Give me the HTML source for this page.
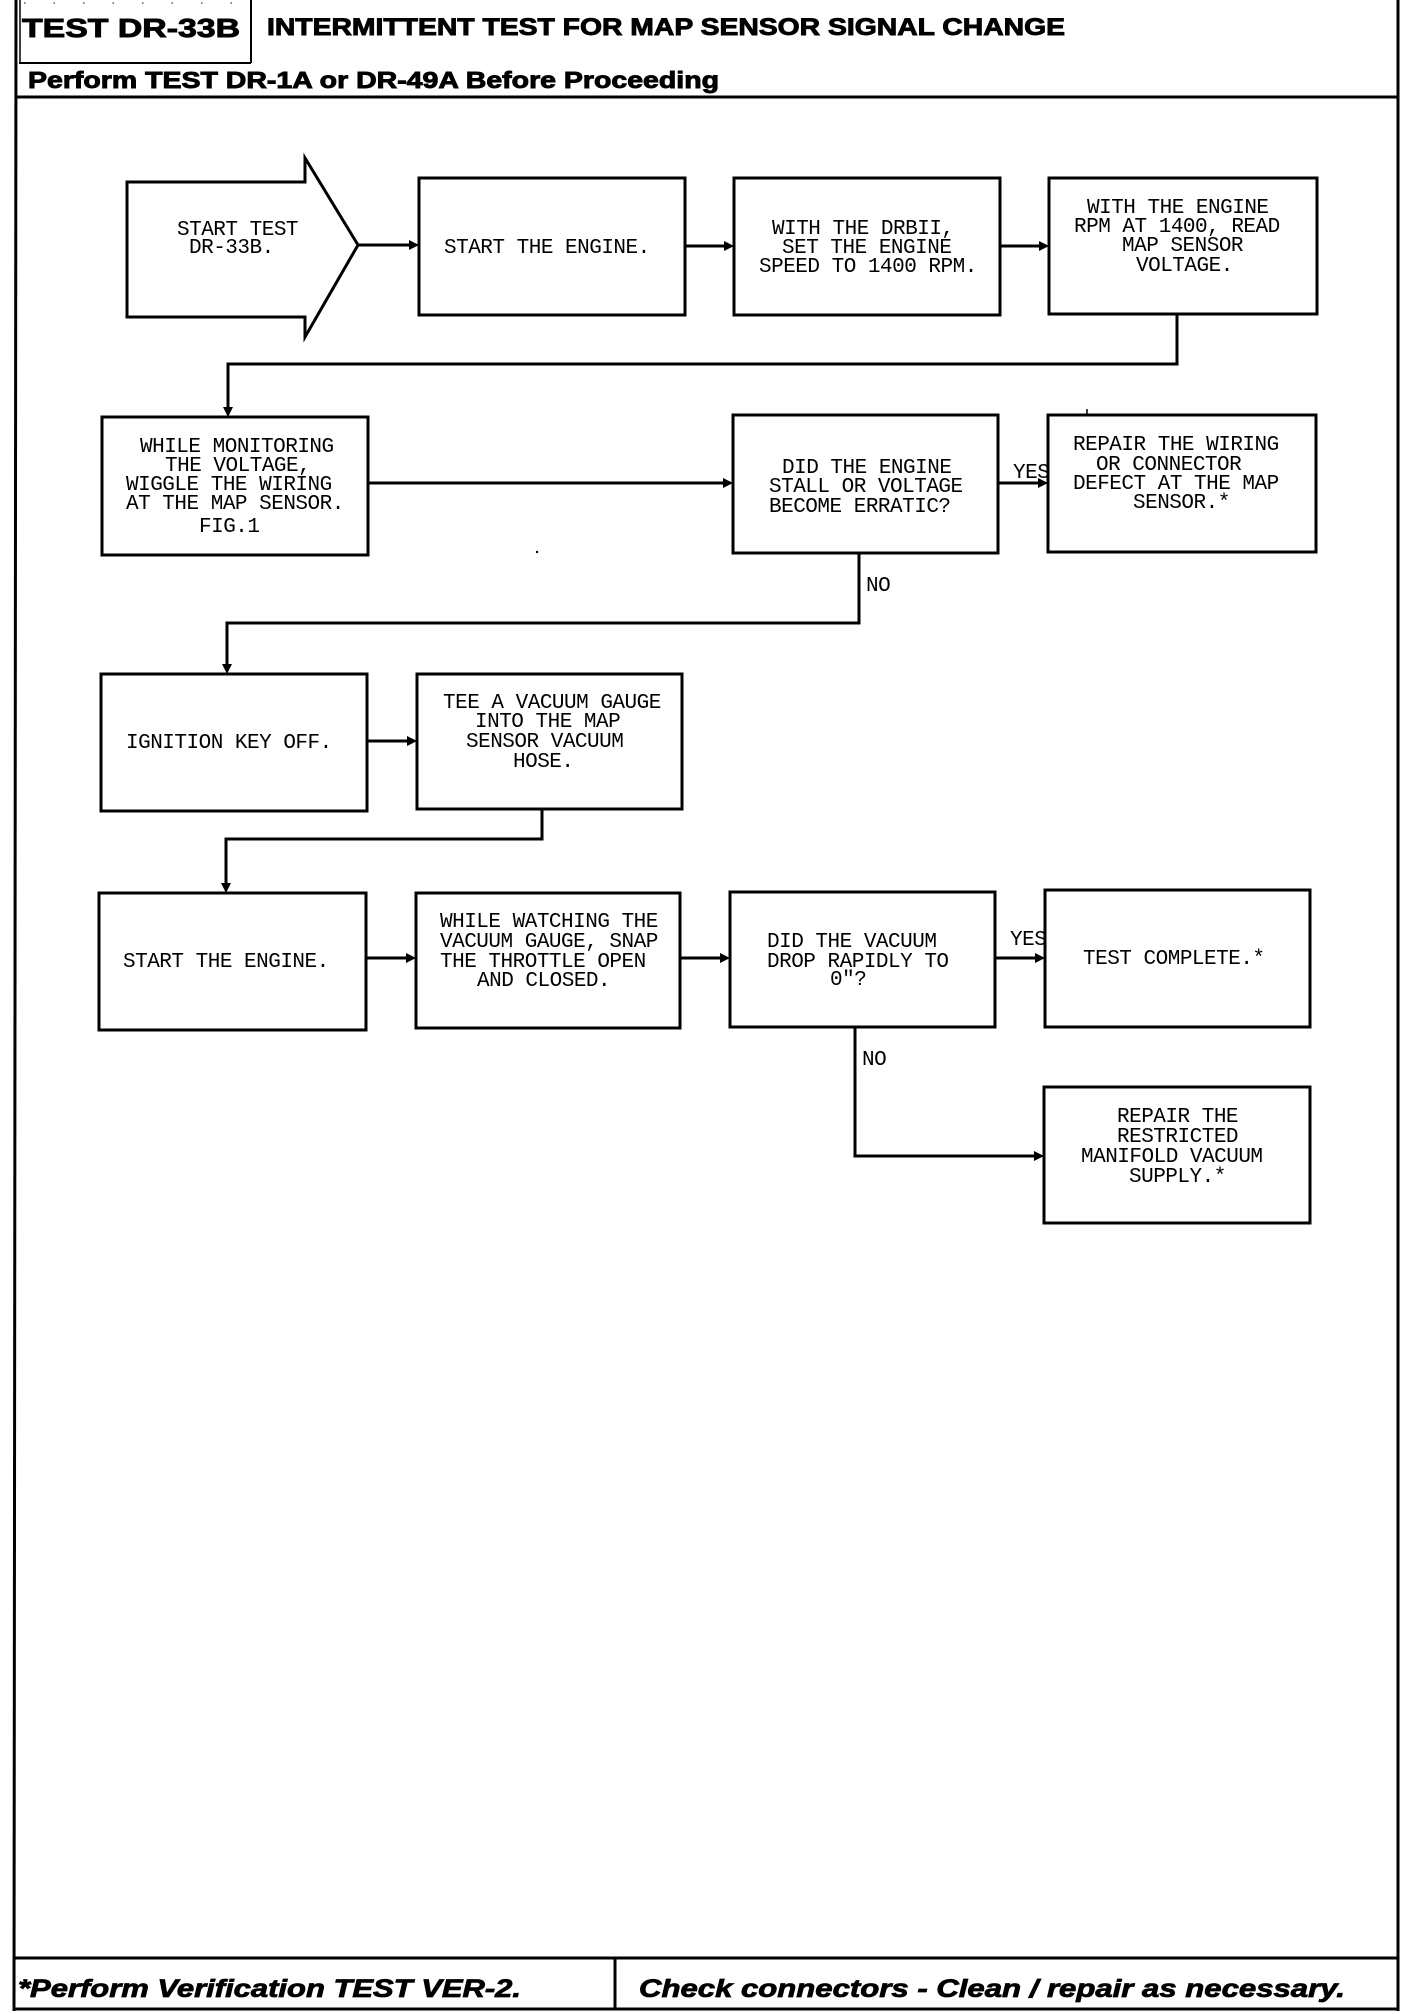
<!DOCTYPE html>
<html><head><meta charset="utf-8">
<style>
html,body{margin:0;padding:0;background:#fff;}
svg{display:block;}
.m{font-family:"Liberation Mono","DejaVu Sans Mono",monospace;font-size:21px;letter-spacing:-0.5px;fill:#000;}
.h{font-family:"Liberation Sans",Arial,sans-serif;font-weight:bold;fill:#000;stroke:#000;stroke-width:0.9px;}
.f{font-family:"Liberation Sans",Arial,sans-serif;font-weight:bold;font-style:italic;fill:#000;stroke:#000;stroke-width:0.8px;}
</style></head>
<body>
<svg width="1408" height="2014" viewBox="0 0 1408 2014" xmlns="http://www.w3.org/2000/svg">
<rect x="0" y="0" width="1408" height="2014" fill="#fff"/>
<g stroke="#000" fill="none">
  <!-- outer frame -->
  <line x1="16" y1="0" x2="14" y2="2011" stroke-width="3"/>
  <line x1="1398" y1="0" x2="1398" y2="2011" stroke-width="3"/>
  <line x1="24" y1="3" x2="251" y2="3" stroke-width="1" stroke-dasharray="1.5 28"/>
  <line x1="20" y1="0" x2="20" y2="63" stroke-width="1.5"/>
  <line x1="251" y1="0" x2="251" y2="63" stroke-width="2"/>
  <line x1="19" y1="63" x2="251" y2="63" stroke-width="2"/>
  <line x1="15" y1="97" x2="1399" y2="97" stroke-width="3"/>
  <!-- footer -->
  <line x1="13" y1="1958" x2="1399" y2="1958" stroke-width="3"/>
  <line x1="615" y1="1958" x2="615" y2="2009" stroke-width="3"/>
  <line x1="13" y1="2009" x2="1399" y2="2009" stroke-width="3"/>
</g>

<!-- header text -->
<text class="h" x="22" y="37" font-size="26" textLength="218" lengthAdjust="spacingAndGlyphs">TEST DR-33B</text>
<text class="h" x="267" y="35" font-size="24" textLength="798" lengthAdjust="spacingAndGlyphs">INTERMITTENT TEST FOR MAP SENSOR SIGNAL CHANGE</text>
<text class="h" x="28" y="88" font-size="23" textLength="691" lengthAdjust="spacingAndGlyphs">Perform TEST DR-1A or DR-49A Before Proceeding</text>

<!-- footer text -->
<text class="f" x="18" y="1997" font-size="25" textLength="503" lengthAdjust="spacingAndGlyphs">*Perform Verification TEST VER-2.</text>
<text class="f" x="639" y="1997" font-size="25" textLength="706" lengthAdjust="spacingAndGlyphs">Check connectors - Clean / repair as necessary.</text>

<!-- shapes -->
<g stroke="#000" stroke-width="3" fill="none" stroke-linejoin="miter">
  <polygon points="127,182 305,182 305,158 358,245 305,337 305,317 127,317"/>
  <rect x="419" y="178" width="266" height="137"/>
  <rect x="734" y="178" width="266" height="137"/>
  <rect x="1049" y="178" width="268" height="136"/>
  <rect x="102" y="417" width="266" height="138"/>
  <rect x="733" y="415" width="265" height="138"/>
  <rect x="1048" y="415" width="268" height="137"/>
  <rect x="101" y="674" width="266" height="137"/>
  <rect x="417" y="674" width="265" height="135"/>
  <rect x="99" y="893" width="267" height="137"/>
  <rect x="416" y="893" width="264" height="135"/>
  <rect x="730" y="892" width="265" height="135"/>
  <rect x="1045" y="890" width="265" height="137"/>
  <rect x="1044" y="1087" width="266" height="136"/>

  <!-- connectors -->
  <line x1="358" y1="245" x2="412" y2="245"/>
  <line x1="685" y1="246" x2="727" y2="246"/>
  <line x1="1000" y1="246" x2="1042" y2="246"/>
  <polyline points="1177,314 1177,364 228,364 228,410"/>
  <line x1="368" y1="483" x2="726" y2="483"/>
  <line x1="998" y1="483" x2="1041" y2="483"/>
  <polyline points="859,553 859,623 227,623 227,667"/>
  <line x1="367" y1="741" x2="410" y2="741"/>
  <polyline points="542,809 542,839 226,839 226,886"/>
  <line x1="366" y1="958" x2="409" y2="958"/>
  <line x1="680" y1="958" x2="723" y2="958"/>
  <line x1="995" y1="958" x2="1038" y2="958"/>
  <polyline points="855,1027 855,1156 1037,1156"/>
  <line x1="1087" y1="409" x2="1087" y2="415" stroke-width="1.5"/>
</g>

<!-- arrowheads -->
<g fill="#000" stroke="none">
  <polygon points="419,245 409,240 409,250"/>
  <polygon points="734,246 724,241 724,251"/>
  <polygon points="1049,246 1039,241 1039,251"/>
  <polygon points="228,417 223,407 233,407"/>
  <polygon points="733,483 723,478 723,488"/>
  <polygon points="1048,483 1038,478 1038,488"/>
  <polygon points="227,674 222,664 232,664"/>
  <polygon points="417,741 407,736 407,746"/>
  <polygon points="226,893 221,883 231,883"/>
  <polygon points="416,958 406,953 406,963"/>
  <polygon points="730,958 720,953 720,963"/>
  <polygon points="1045,958 1035,953 1035,963"/>
  <polygon points="1044,1156 1034,1151 1034,1161"/>
  <circle cx="537" cy="552" r="1.2"/>
</g>

<!-- box text -->
<g class="m">
  <text x="177" y="235">START TEST</text>
  <text x="189" y="253">DR-33B.</text>

  <text x="444" y="253">START THE ENGINE.</text>

  <text x="772" y="234">WITH THE DRBII,</text>
  <text x="782" y="253">SET THE ENGINE</text>
  <text x="759" y="272">SPEED TO 1400 RPM.</text>

  <text x="1087" y="213">WITH THE ENGINE</text>
  <text x="1074" y="232">RPM AT 1400, READ</text>
  <text x="1122" y="251">MAP SENSOR</text>
  <text x="1136" y="271">VOLTAGE.</text>

  <text x="140" y="452">WHILE MONITORING</text>
  <text x="165" y="471">THE VOLTAGE,</text>
  <text x="126" y="490">WIGGLE THE WIRING</text>
  <text x="126" y="509">AT THE MAP SENSOR.</text>
  <text x="199" y="532">FIG.1</text>

  <text x="782" y="473">DID THE ENGINE</text>
  <text x="769" y="492">STALL OR VOLTAGE</text>
  <text x="769" y="512">BECOME ERRATIC?</text>

  <text x="1013" y="478">YES</text>

  <text x="1073" y="450">REPAIR THE WIRING</text>
  <text x="1096" y="470">OR CONNECTOR</text>
  <text x="1073" y="489">DEFECT AT THE MAP</text>
  <text x="1133" y="508">SENSOR.*</text>

  <text x="866" y="591">NO</text>

  <text x="126" y="748">IGNITION KEY OFF.</text>

  <text x="443" y="708">TEE A VACUUM GAUGE</text>
  <text x="475" y="727">INTO THE MAP</text>
  <text x="466" y="747">SENSOR VACUUM</text>
  <text x="513" y="767">HOSE.</text>

  <text x="123" y="967">START THE ENGINE.</text>

  <text x="440" y="927">WHILE WATCHING THE</text>
  <text x="440" y="947">VACUUM GAUGE, SNAP</text>
  <text x="440" y="967">THE THROTTLE OPEN</text>
  <text x="477" y="986">AND CLOSED.</text>

  <text x="767" y="947">DID THE VACUUM</text>
  <text x="767" y="967">DROP RAPIDLY TO</text>
  <text x="830" y="985">0"?</text>

  <text x="1010" y="945">YES</text>

  <text x="1083" y="964">TEST COMPLETE.*</text>

  <text x="862" y="1065">NO</text>

  <text x="1117" y="1122">REPAIR THE</text>
  <text x="1117" y="1142">RESTRICTED</text>
  <text x="1081" y="1162">MANIFOLD VACUUM</text>
  <text x="1129" y="1182">SUPPLY.*</text>
</g>
</svg>
</body></html>
